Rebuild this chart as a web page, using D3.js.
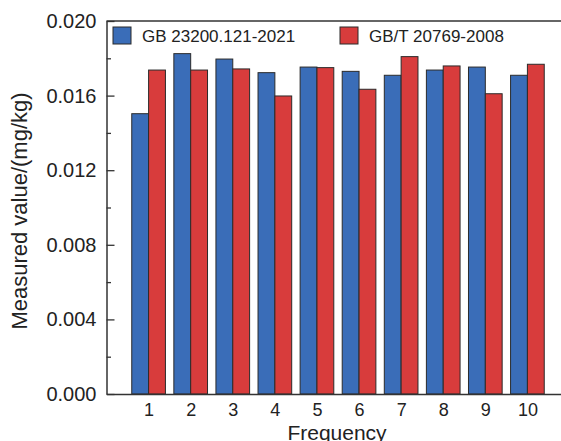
<!DOCTYPE html>
<html>
<head>
<meta charset="utf-8">
<script src="https://d3js.org/d3.v7.min.js"></script>
<style>
  body { margin: 0; background: #fff; }
  text { font-family: "Liberation Sans", Arial, sans-serif; fill: #222; }
</style>
</head>
<body>
<svg width="561" height="441"></svg>
<script>
var runs = [1, 2, 3, 4, 5, 6, 7, 8, 9, 10];
var gb23200 = [0.01503, 0.01825, 0.01796, 0.01723, 0.01753, 0.01730, 0.01709, 0.01737, 0.01753, 0.01709];
var gbt20769 = [0.01737, 0.01737, 0.01743, 0.01598, 0.01750, 0.01634, 0.01809, 0.01759, 0.01610, 0.01768];
var seriesNames = ["GB 23200.121-2021", "GB/T 20769-2008"];
var seriesColors = ["#3a6db8", "#d83c3c"];
var yTicks = [0, 0.004, 0.008, 0.012, 0.016, 0.020];

var svg = d3.select("svg");
var plotLeft = 106.5, plotTop = 21, plotBottom = 394, plotRight = 569.5;

var x = d3.scaleLinear().domain([0, 11]).range([plotLeft, plotRight]);
var y = d3.scaleLinear().domain([0, 0.020]).range([plotBottom, plotTop]);
var barW = 0.4;

var series = [gb23200, gbt20769];
series.forEach(function(vals, s) {
  svg.append("g").selectAll("rect")
    .data(vals)
    .enter().append("rect")
    .attr("x", function(d, i) { return x(runs[i] - barW + s * barW); })
    .attr("y", function(d) { return y(d); })
    .attr("width", x(barW) - x(0))
    .attr("height", function(d) { return y(0) - y(d); })
    .attr("fill", seriesColors[s])
    .attr("stroke", "#2b2b2b")
    .attr("stroke-width", 1);
});

// minor y ticks
svg.append("g")
  .attr("transform", "translate(" + plotLeft + ",0)")
  .call(d3.axisLeft(y).tickValues(d3.range(0.002, 0.02, 0.004)).tickSize(-4.5).tickFormat(""))
  .call(function(g) { g.select(".domain").remove(); g.selectAll("line").attr("stroke", "#333").attr("stroke-width", 1.3); });

var yAxis = svg.append("g")
  .attr("transform", "translate(" + plotLeft + ",0)")
  .call(d3.axisLeft(y).tickValues(yTicks).tickSize(-8).tickSizeOuter(0).tickPadding(10)
    .tickFormat(d3.format(".3f")));
yAxis.select(".domain").attr("stroke", "#333").attr("stroke-width", 1.5);
yAxis.selectAll("line").attr("stroke", "#333").attr("stroke-width", 1.3);
yAxis.selectAll("text").attr("font-size", 20).style("fill", "#222");

var xAxis = svg.append("g")
  .attr("transform", "translate(0," + plotBottom + ")")
  .call(d3.axisBottom(x).tickValues(runs).tickSize(0).tickSizeOuter(0).tickPadding(9)
    .tickFormat(d3.format("d")));
xAxis.select(".domain").attr("stroke", "#333").attr("stroke-width", 1.5);
xAxis.selectAll("text").attr("font-size", 18).style("fill", "#222");

// top frame line
svg.append("line")
  .attr("x1", plotLeft).attr("x2", plotRight)
  .attr("y1", plotTop).attr("y2", plotTop)
  .attr("stroke", "#333").attr("stroke-width", 1.5);

// legend
var legendX = [113, 340];
seriesNames.forEach(function(name, s) {
  svg.append("rect")
    .attr("x", legendX[s]).attr("y", 27)
    .attr("width", 18).attr("height", 17)
    .attr("fill", seriesColors[s])
    .attr("stroke", "#2b2b2b").attr("stroke-width", 1);
  svg.append("text")
    .attr("x", legendX[s] + 29).attr("y", 42)
    .attr("font-size", 17)
    .text(name);
});

svg.append("text")
  .attr("transform", "translate(27,211) rotate(-90)")
  .attr("text-anchor", "middle")
  .attr("font-size", 22)
  .text("Measured value/(mg/kg)");

svg.append("text")
  .attr("x", 337).attr("y", 440)
  .attr("text-anchor", "middle")
  .attr("font-size", 21)
  .text("Frequency");
</script>
</body>
</html>
